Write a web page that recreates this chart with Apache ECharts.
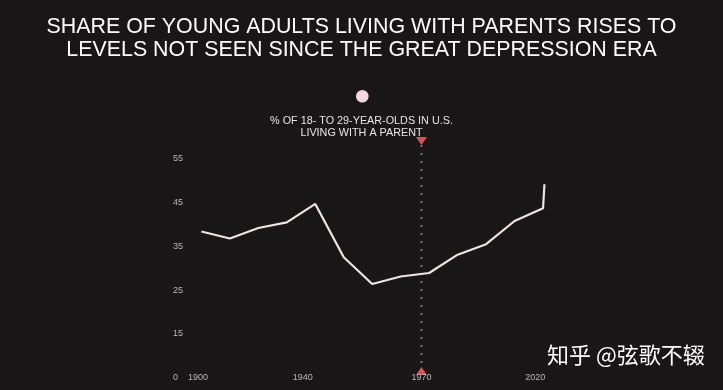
<!DOCTYPE html>
<html>
<head>
<meta charset="utf-8">
<script src="https://cdn.jsdelivr.net/npm/echarts@6/dist/echarts.min.js"></script>
<style>
html,body{margin:0;padding:0;background:#181616;}
#chart{width:723px;height:390px;}
</style>
</head>
<body>
<div id="chart"></div>
<script>
// ---- data ----
const years = [1900,1910,1920,1930,1940,1950,1960,1970,1980,1990,2000,2010,2020,2020.5];
const shareValues = [38.4,36.8,39.2,40.5,44.7,32.5,26.4,28.1,28.9,33.1,35.5,40.8,43.7,49.2];
const yTickValues = [5,15,25,35,45,55];
const yTickLabels = ['0','15','25','35','45','55'];
const xTickValues = [1898.8,1935.6,1977.3,2017.3];
const xTickLabels = ['1900','1940','1970','2020'];
const markerYear = 1977.3;
const markerRange = [6.5, 59.1];

const chart = echarts.init(document.getElementById('chart'));
const FONT = 'Liberation Sans, Arial, sans-serif';
chart.setOption({
  backgroundColor: '#181616',
  animation: false,
  title: [{
    text: 'SHARE OF YOUNG ADULTS LIVING WITH PARENTS RISES TO\nLEVELS NOT SEEN SINCE THE GREAT DEPRESSION ERA',
    left: 'center', top: 11,
    textStyle: {color: '#ffffff', fontSize: 21.4, fontWeight: 'normal', fontFamily: FONT, lineHeight: 23, align: 'center'}
  },{
    text: '% OF 18- TO 29-YEAR-OLDS IN U.S.\nLIVING WITH A PARENT',
    left: 'center', top: 110,
    textStyle: {color: '#e6e6e6', fontSize: 10.8, fontWeight: 'normal', fontFamily: FONT, lineHeight: 12.3, align: 'center'}
  }],
  graphic: [{
    type: 'circle', left: 356, top: 90,
    shape: {r: 6.3},
    style: {fill: '#f4d6e0'}
  },{
    type: 'text', left: 547, top: 344,
    style: {text: '知乎 @弦歌不辍', fill: '#ffffff', font: '22px "Noto Sans CJK SC"'}
  }],
  grid: {left: 190, right: 151.5, top: 141, bottom: 12.5},
  xAxis: {
    type: 'value', min: 1896, max: 2030,
    axisLine: {show: false}, axisTick: {show: false}, splitLine: {show: false},
    axisLabel: {
      customValues: xTickValues,
      formatter: v => xTickLabels[xTickValues.indexOf(v)] ?? '',
      color: '#b8b8b8', fontSize: 9, fontFamily: FONT,
      verticalAlign: 'middle', margin: 0
    }
  },
  yAxis: {
    type: 'value', min: 5, max: 59.1,
    axisLine: {show: false}, axisTick: {show: false}, splitLine: {show: false},
    axisLabel: {
      customValues: yTickValues,
      formatter: v => yTickLabels[yTickValues.indexOf(v)] ?? '',
      color: '#b8b8b8', fontSize: 9, fontFamily: FONT,
      align: 'left', margin: 17
    }
  },
  series: [{
    type: 'line',
    data: years.map((y,i) => [y, shareValues[i]]),
    showSymbol: false,
    lineStyle: {color: '#efe3e3', width: 2.2},
    z: 3
  },{
    type: 'line',
    z: -1,
    data: [
      {value: [markerYear, markerRange[0]], symbolRotate: 0},
      {value: [markerYear, markerRange[1]], symbolRotate: 180}
    ],
    symbol: 'triangle',
    symbolSize: [11, 8],
    showSymbol: true,
    itemStyle: {color: '#d9535b'},
    lineStyle: {color: '#8d6a72', width: 2, type: [2, 6]}
  }]
});
</script>
</body>
</html>
